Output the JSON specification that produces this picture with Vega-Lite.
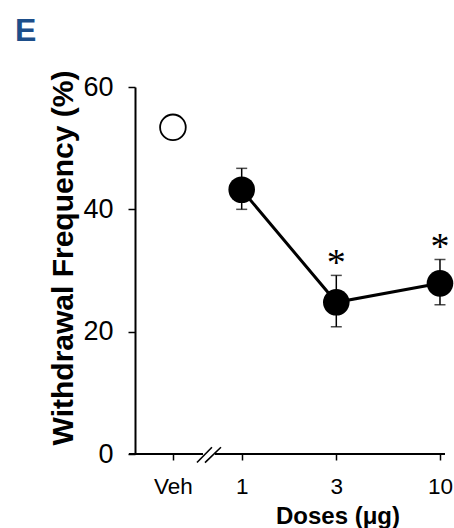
{
  "$schema": "https://vega.github.io/schema/vega-lite/v6.json",
  "width": 310,
  "height": 367,
  "autosize": {"type": "none"},
  "padding": {"left": 135, "top": 87, "right": 9, "bottom": 74},
  "background": "white",
  "config": {
    "view": {"stroke": null},
    "font": "Liberation Sans"
  },
  "title": {
    "text": "E",
    "anchor": "start",
    "frame": "group",
    "dx": -120,
    "dy": 29,
    "offset": 26,
    "baseline": "alphabetic",
    "fontSize": 32,
    "fontWeight": "bold",
    "color": "#1d4e8a",
    "font": "Liberation Sans"
  },
  "datasets": {
    "pts": [
      {"group": "Veh", "dose": 0.45, "mean": 53.4, "lo": null, "hi": null, "sig": ""},
      {"group": "1", "dose": 1, "mean": 43.2, "lo": 40.0, "hi": 46.7, "sig": ""},
      {"group": "3", "dose": 3, "mean": 24.8, "lo": 20.8, "hi": 29.2, "sig": "*"},
      {"group": "10", "dose": 10, "mean": 27.9, "lo": 24.4, "hi": 31.8, "sig": "*"}
    ],
    "axisline": [
      {"a": 0.27, "b": 0.638},
      {"a": 0.733, "b": 10.6}
    ],
    "slashes": [
      {"s1": 0.595, "s2": 0.708},
      {"s1": 0.653, "s2": 0.786}
    ]
  },
  "layer": [
    {
      "data": {"name": "axisline"},
      "mark": {"type": "rule", "color": "black", "strokeWidth": 2},
      "encoding": {
        "x": {"field": "a", "type": "quantitative", "scale": {"type": "log", "domain": [0.2897, 10.6], "nice": false},
          "axis": {
            "domain": false,
            "values": [0.45, 1, 3, 10],
            "labelExpr": "datum.value < 0.5 ? 'Veh' : format(datum.value, '~g')",
            "grid": false,
            "ticks": true,
            "tickSize": 6,
            "tickWidth": 1.5,
            "tickColor": "black",
            "labelFontSize": 22.5,
            "labelColor": "black",
            "labelPadding": 15,
            "labelFont": "Liberation Sans",
            "title": "Doses (μg)",
            "titleFont": "Liberation Sans",
            "titleFontSize": 24,
            "titleFontWeight": "bold",
            "titleColor": "black",
            "titleX": 202.5,
            "titleY": 69,
            "titleBaseline": "alphabetic",
            "titleAlign": "center"
          }
        },
        "x2": {"field": "b"},
        "y": {"datum": 0, "type": "quantitative", "scale": {"domain": [0, 60], "nice": false},
          "axis": {
            "values": [0, 20, 40, 60],
            "grid": false,
            "domain": true,
            "domainColor": "black",
            "domainWidth": 2,
            "tickSize": 7,
            "tickWidth": 1.5,
            "tickColor": "black",
            "labelFontSize": 27,
            "labelColor": "black",
            "labelPadding": 15,
            "labelFont": "Liberation Sans",
            "title": "Withdrawal Frequency (%)",
            "titleFont": "Liberation Sans",
            "titleFontSize": 30,
            "titleFontWeight": "bold",
            "titleColor": "black",
            "titleAngle": -90,
            "titleX": -63,
            "titleY": 170.5,
            "titleBaseline": "alphabetic",
            "titleAlign": "center"
          }
        }
      }
    },
    {
      "data": {"name": "slashes"},
      "mark": {"type": "rule", "color": "black", "strokeWidth": 1.6},
      "encoding": {
        "x": {"field": "s1", "type": "quantitative"},
        "x2": {"field": "s2"},
        "y": {"datum": -1.4, "type": "quantitative"},
        "y2": {"datum": 1.1}
      }
    },
    {
      "data": {"name": "pts"},
      "mark": {"type": "rule", "color": "black", "strokeWidth": 1.5},
      "encoding": {
        "x": {"field": "dose", "type": "quantitative"},
        "y": {"field": "lo", "type": "quantitative"},
        "y2": {"field": "hi"}
      }
    },
    {
      "data": {"name": "pts"},
      "mark": {"type": "tick", "orient": "horizontal", "color": "black", "size": 11, "thickness": 1.5},
      "encoding": {
        "x": {"field": "dose", "type": "quantitative"},
        "y": {"field": "hi", "type": "quantitative"}
      }
    },
    {
      "data": {"name": "pts"},
      "mark": {"type": "tick", "orient": "horizontal", "color": "black", "size": 11, "thickness": 1.5},
      "encoding": {
        "x": {"field": "dose", "type": "quantitative"},
        "y": {"field": "lo", "type": "quantitative"}
      }
    },
    {
      "data": {"name": "pts"},
      "transform": [{"filter": "datum.dose >= 1"}],
      "mark": {"type": "line", "color": "black", "strokeWidth": 3},
      "encoding": {
        "x": {"field": "dose", "type": "quantitative"},
        "y": {"field": "mean", "type": "quantitative"}
      }
    },
    {
      "data": {"name": "pts"},
      "transform": [{"filter": "datum.dose >= 1"}],
      "mark": {"type": "point", "shape": "circle", "filled": true, "color": "black", "opacity": 1, "size": 707},
      "encoding": {
        "x": {"field": "dose", "type": "quantitative"},
        "y": {"field": "mean", "type": "quantitative"}
      }
    },
    {
      "data": {"name": "pts"},
      "transform": [{"filter": "datum.dose < 1"}],
      "mark": {"type": "point", "shape": "circle", "filled": false, "fill": "white", "fillOpacity": 1, "stroke": "black", "strokeWidth": 1.8, "opacity": 1, "size": 660},
      "encoding": {
        "x": {"field": "dose", "type": "quantitative"},
        "y": {"field": "mean", "type": "quantitative"}
      }
    },
    {
      "data": {"name": "pts"},
      "transform": [{"filter": "datum.sig != ''"}],
      "mark": {"type": "text", "font": "Liberation Serif", "fontSize": 38, "baseline": "alphabetic", "align": "center", "dy": 0, "color": "black"},
      "encoding": {
        "x": {"field": "dose", "type": "quantitative"},
        "y": {"field": "hi", "type": "quantitative"},
        "text": {"field": "sig"}
      }
    }
  ]
}
